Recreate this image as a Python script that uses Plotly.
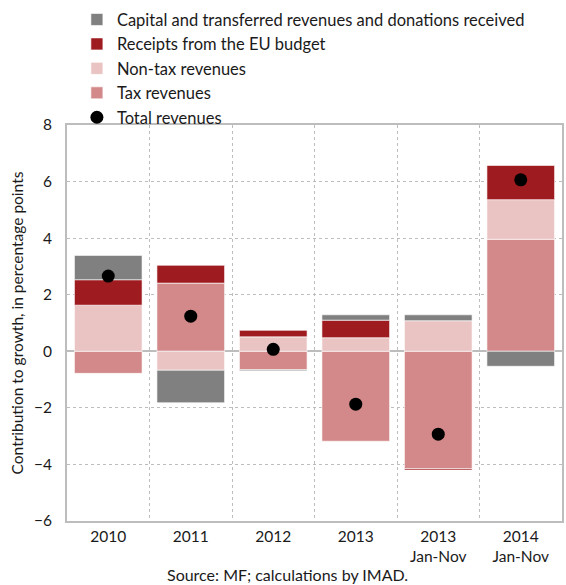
import plotly.graph_objects as go

# Categories and contributions to growth (percentage points)
categories = ["2010", "2011", "2012", "2013", "2013<br>Jan-Nov", "2014<br>Jan-Nov"]
tax_revenues = [-0.78, 2.41, -0.65, -3.18, -4.15, 3.96]
non_tax_revenues = [1.63, -0.67, 0.51, 0.48, 1.08, 1.40]
eu_budget = [0.90, 0.63, 0.23, 0.62, -0.05, 1.21]
capital_transfers = [0.86, -1.15, -0.04, 0.19, 0.21, -0.53]
total_revenues = [2.66, 1.24, 0.07, -1.87, -2.93, 6.06]

FONT = "Lato"
GRID = "#bdbdbd"

fig = go.Figure()

bar_series = [
    ("Tax revenues", tax_revenues, "#d38989", 4),
    ("Non-tax revenues", non_tax_revenues, "#eac4c3", 3),
    ("Receipts from the EU budget", eu_budget, "#9e1b20", 2),
    ("Capital and transferred revenues and donations received", capital_transfers, "#808080", 1),
]
for name, vals, color, rank in bar_series:
    fig.add_trace(go.Bar(
        x=categories, y=vals, name=name, width=0.82,
        marker=dict(color=color, line=dict(color="rgba(255,255,255,0.6)", width=1)),
        legendrank=rank,
    ))

fig.add_trace(go.Scatter(
    x=categories, y=total_revenues, name="Total revenues", mode="markers",
    marker=dict(color="black", size=13, symbol="circle"),
    legendrank=5,
))

fig.update_layout(
    width=566, height=585,
    margin=dict(l=67, r=2, t=125, b=64),
    barmode="relative",
    plot_bgcolor="white", paper_bgcolor="white",
    font=dict(family=FONT, size=15, color="#1a1a1a"),
    showlegend=True,
    legend=dict(
        x=0.02, y=1.31, xanchor="left", yanchor="top",
        font=dict(family=FONT, size=16.5, color="#1a1a1a"),
        bgcolor="rgba(0,0,0,0)", itemwidth=30, tracegroupgap=0,
    ),
    xaxis=dict(
        type="category", tickson="boundaries",
        showgrid=True, gridcolor=GRID, griddash="dot", gridwidth=1,
        showline=True, linecolor=GRID, linewidth=2, mirror=True,
        ticks="", tickfont=dict(size=15.5),
    ),
    yaxis=dict(
        range=[-6, 8], dtick=2,
        showgrid=True, gridcolor=GRID, griddash="dot", gridwidth=1,
        zeroline=True, zerolinecolor=GRID, zerolinewidth=2,
        showline=True, linecolor=GRID, linewidth=2, mirror=True,
        ticks="", tickfont=dict(size=15.5), ticklabelstandoff=10,
        title=dict(text="Contribution to growth, in percentage points",
                   font=dict(size=15.5), standoff=6),
    ),
    annotations=[dict(
        text="Source: MF; calculations by IMAD.", xref="paper", yref="paper",
        x=0.446, y=-0.135, xanchor="center", yanchor="middle",
        showarrow=False, font=dict(family=FONT, size=16),
    )],
)

fig.write_html("out.html")
